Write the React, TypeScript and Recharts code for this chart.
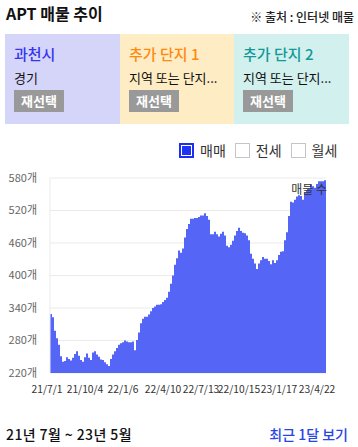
import { BarChart, Bar, XAxis, YAxis, CartesianGrid } from "recharts";

// listing counts, one bar per ~5 days (21/7/1 -> 23/5)
const COUNTS = [
  329, 323, 298, 284, 272, 251, 241, 242, 249, 246, 243, 248, 255, 260, 252, 244, 241, 249, 256, 248,
  244, 258, 260, 254, 250, 245, 244, 240, 236, 233, 246, 254, 260, 266, 272, 275, 277, 280, 278, 277,
  277, 278, 262, 281, 295, 312, 320, 324, 324, 328, 334, 340, 343, 346, 346, 347, 351, 355, 359, 370,
  385, 400, 420, 432, 446, 442, 450, 470, 486, 495, 505, 505, 506, 506, 508, 511, 511, 515, 510, 503,
  476, 476, 481, 476, 472, 477, 481, 474, 455, 452, 457, 464, 474, 482, 488, 482, 479, 478, 474, 465,
  440, 431, 422, 412, 422, 428, 434, 431, 431, 427, 421, 428, 423, 428, 438, 444, 445, 465, 480, 510,
  536, 535, 540, 546, 548, 547, 540, 552, 557, 560, 568, 565, 562, 569, 574, 574, 574, 576,
];

const TICK_LABELS = ["21/7/1", "21/10/4", "22/1/6", "22/4/10", "22/7/13", "22/10/15", "23/1/17", "23/4/22"];
const TICK_AT = [0, 19, 38, 58, 77, 96, 116, 135];
const Y_TICKS = [220, 280, 340, 400, 460, 520, 580];

const CARDS = [
  { title: "과천시", sub: "경기", bg: "#d5d5fa", color: "#3535f0" },
  { title: "추가 단지 1", sub: "지역 또는 단지...", bg: "#feecc4", color: "#ff8a10" },
  { title: "추가 단지 2", sub: "지역 또는 단지...", bg: "#d2f0ee", color: "#12999a" },
];

const LEGEND = [
  { name: "매매", on: true },
  { name: "전세", on: false },
  { name: "월세", on: false },
];

const FONT = '"Noto Sans CJK KR", "Noto Sans", sans-serif';

export default function App() {
  const data = COUNTS.map((v, i) => ({ i, v }));

  return (
    <div
      style={{
        position: "absolute",
        left: 0,
        top: 0,
        width: 358,
        height: 447,
        background: "#fff",
        fontFamily: FONT,
        color: "#111",
      }}
    >
      <div style={{ position: "absolute", left: 6, top: 3, fontSize: 16, fontWeight: 700, lineHeight: "20px" }}>
        APT 매물 추이
      </div>
      <div
        style={{
          position: "absolute",
          right: 4,
          top: 9,
          fontSize: 12,
          fontWeight: 500,
          lineHeight: "16px",
          color: "#222",
        }}
      >
        ※ 출처 : 인터넷 매물
      </div>

      <div style={{ position: "absolute", left: 5, top: 34, display: "flex" }}>
        {CARDS.map((c, k) => (
          <div
            key={c.title}
            style={{
              width: k === 1 ? 114 : 115,
              height: 90,
              background: c.bg,
              boxSizing: "border-box",
              paddingLeft: 9,
              paddingTop: 10,
            }}
          >
            <div style={{ fontSize: 15, lineHeight: "20px", color: c.color, fontWeight: 500 }}>{c.title}</div>
            <div style={{ fontSize: 13, lineHeight: "18px", marginTop: 5, color: "#111" }}>{c.sub}</div>
            <div
              style={{
                marginTop: 3,
                width: 50,
                height: 22,
                background: "#999",
                color: "#fff",
                fontSize: 13,
                fontWeight: 700,
                lineHeight: "22px",
                textAlign: "center",
              }}
            >
              재선택
            </div>
          </div>
        ))}
      </div>

      <div style={{ position: "absolute", left: 179, top: 141, display: "flex", alignItems: "center" }}>
        {LEGEND.map((l) => (
          <div key={l.name} style={{ display: "flex", alignItems: "center", marginRight: 9 }}>
            <span
              style={{
                display: "inline-block",
                width: 15,
                height: 15,
                boxSizing: "border-box",
                border: l.on ? "2px solid #1a2ff0" : "1px solid #c4c4cc",
                background: l.on ? "#1f33f5" : "#fff",
                outline: l.on ? "1px solid #fff" : "none",
                outlineOffset: -3,
              }}
            />
            <span style={{ fontSize: 14, lineHeight: "18px", marginLeft: 6, color: "#333" }}>{l.name}</span>
          </div>
        ))}
      </div>

      <div style={{ position: "absolute", left: 0, top: 165 }}>
        <BarChart
          width={358}
          height={240}
          data={data}
          margin={{ top: 13, right: 32, bottom: 0, left: 0 }}
          barCategoryGap={0}
          style={{ fontFamily: FONT }}
        >
          <CartesianGrid vertical={false} stroke="#ebebeb" />
          <XAxis
            dataKey="i"
            ticks={TICK_AT}
            interval={0}
            tickFormatter={(v) => TICK_LABELS[TICK_AT.indexOf(v)] ?? ""}
            tick={{ fontSize: 10.3, fill: "#333", dx: -4 }}
            tickLine={false}
            axisLine={false}
            tickMargin={7}
            height={32}
          />
          <YAxis
            domain={[220, 580]}
            ticks={Y_TICKS}
            allowDataOverflow
            tickFormatter={(v) => `${v}개`}
            tick={{ fontSize: 11, fill: "#666" }}
            tickLine={false}
            axisLine={{ stroke: "#ebebeb" }}
            tickMargin={7}
            width={50}
          />
          <Bar dataKey="v" fill="#5566f6" isAnimationActive={false} />
        </BarChart>
      </div>

      <div
        style={{
          position: "absolute",
          right: 31,
          top: 181,
          fontSize: 12,
          lineHeight: "16px",
          color: "#333",
        }}
      >
        매물 수
      </div>

      <div
        style={{
          position: "absolute",
          left: 6,
          top: 424,
          fontSize: 14,
          fontWeight: 500,
          lineHeight: "20px",
          letterSpacing: 0.4,
          color: "#111",
        }}
      >
        21년 7월 ~ 23년 5월
      </div>
      <div
        style={{
          position: "absolute",
          right: 10,
          top: 424,
          fontSize: 14,
          fontWeight: 500,
          lineHeight: "20px",
          color: "#2a45e6",
        }}
      >
        최근 1달 보기
      </div>
    </div>
  );
}
